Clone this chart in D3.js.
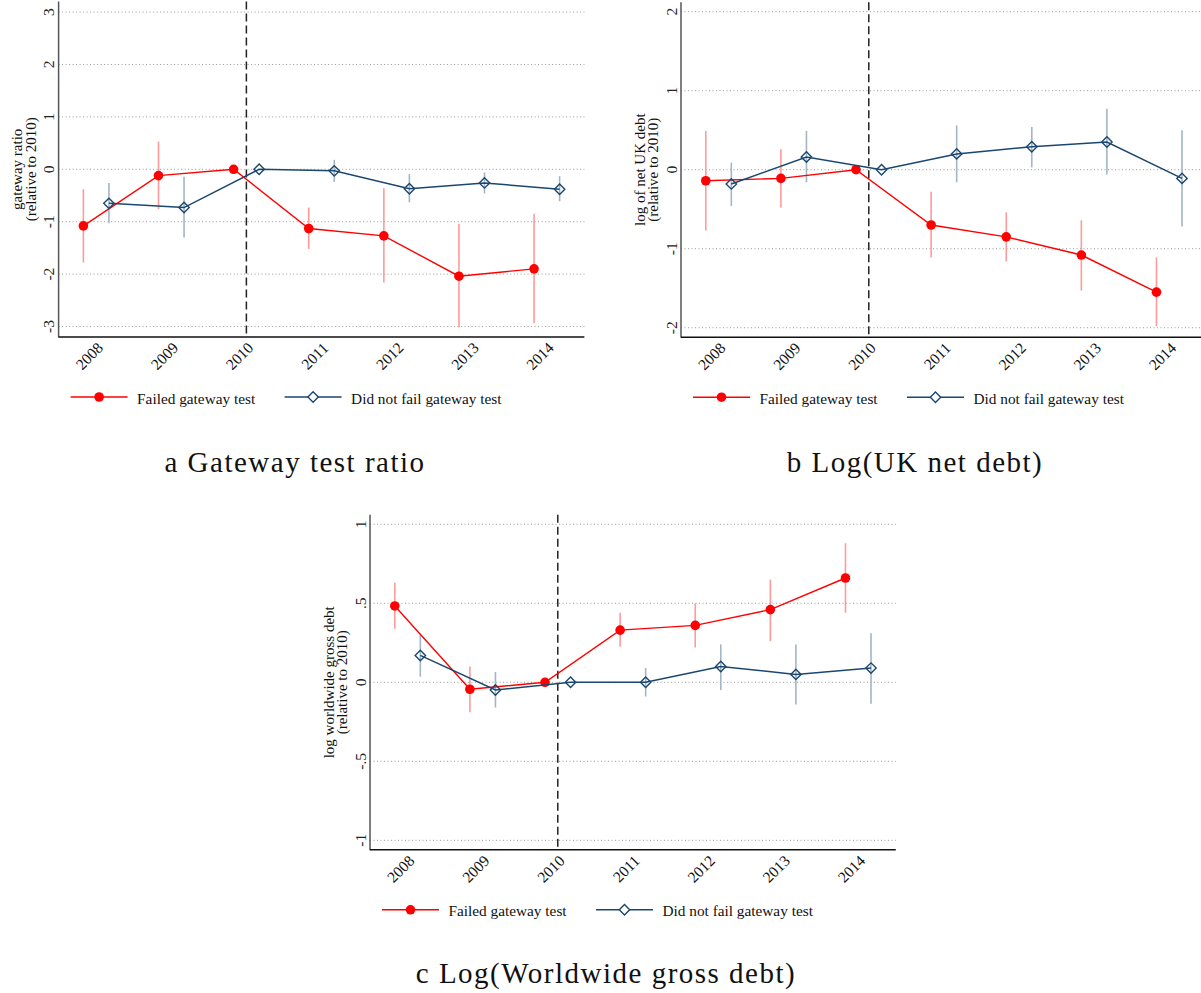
<!DOCTYPE html>
<html>
<head>
<meta charset="utf-8">
<script src="https://cdn.jsdelivr.net/npm/d3@7"></script>
<style>
  body { margin: 0; background: #fff; }
  svg { display: block; font-family: "Liberation Serif", "Times New Roman", serif; }
</style>
</head>
<body>
<svg id="chart" width="1201" height="993"></svg>
<script>
// years and estimates (null = reference year, no CI)
const years = [2008, 2009, 2010, 2011, 2012, 2013, 2014];

const gwFailed   = [-1.08, -0.12, 0, -1.13, -1.27, -2.04, -1.90];
const gwFailedLo = [-1.78, -0.76, null, -1.52, -2.16, -3.02, -2.94];
const gwFailedHi = [-0.38, 0.53, null, -0.73, -0.36, -1.04, -0.85];
const gwPassed   = [-0.65, -0.73, 0, -0.03, -0.37, -0.26, -0.38];
const gwPassedLo = [-1.03, -1.30, null, -0.24, -0.63, -0.46, -0.61];
const gwPassedHi = [-0.26, -0.14, null, 0.18, -0.09, -0.06, -0.13];

const ukFailed   = [-0.14, -0.11, 0, -0.70, -0.85, -1.08, -1.55];
const ukFailedLo = [-0.77, -0.48, null, -1.11, -1.16, -1.53, -1.98];
const ukFailedHi = [0.49, 0.26, null, -0.28, -0.54, -0.64, -1.11];
const ukPassed   = [-0.18, 0.16, 0, 0.20, 0.29, 0.35, -0.11];
const ukPassedLo = [-0.46, -0.16, null, -0.16, 0.03, -0.06, -0.72];
const ukPassedHi = [0.09, 0.49, null, 0.56, 0.54, 0.77, 0.50];

const wwFailed   = [0.483, -0.044, 0, 0.33, 0.36, 0.46, 0.66];
const wwFailedLo = [0.34, -0.19, null, 0.225, 0.22, 0.26, 0.44];
const wwFailedHi = [0.63, 0.10, null, 0.44, 0.50, 0.65, 0.88];
const wwPassed   = [0.17, -0.049, 0, 0, 0.10, 0.05, 0.09];
const wwPassedLo = [0.035, -0.16, null, -0.09, -0.05, -0.14, -0.135];
const wwPassedHi = [0.30, 0.065, null, 0.09, 0.24, 0.24, 0.31];

const gwTicks = [-3, -2, -1, 0, 1, 2, 3];
const ukTicks = [-2, -1, 0, 1, 2];
const wwTicks = [-1, -0.5, 0, 0.5, 1];

const seriesNames = ['Failed gateway test', 'Did not fail gateway test'];

const RED = '#ff0000';
const NAVY = '#1a476f';
const offset = 0.17; // horizontal shift of the two groups around each year

const svg = d3.select('#chart');

function fmtTick(v) {
  // Stata style: .5, -.5
  return String(v).replace(/^(-?)0\./, '$1.');
}

function drawPanel(p) {
  const x = d3.scaleLinear().domain([2007.5, 2014.5]).range([p.left, p.left + 525.8]);
  const y = d3.scaleLinear().domain(p.yDomain).range(p.yRange);
  const g = svg.append('g');
  const [x0, x1] = x.range();
  const yBottom = y.range()[0], yTop = y.range()[1];

  // gridlines
  g.selectAll('line.grid').data(p.ticks).join('line')
    .attr('x1', x0).attr('x2', x1)
    .attr('y1', d => y(d)).attr('y2', d => y(d))
    .attr('stroke', '#9a9a9a').attr('stroke-width', 1)
    .attr('stroke-dasharray', '1,2.5');

  // y tick labels (rotated)
  g.selectAll('text.yt').data(p.ticks).join('text')
    .attr('transform', d => `translate(${x0 - 10},${y(d)}) rotate(-90)`)
    .attr('text-anchor', 'middle')
    .attr('dominant-baseline', 'central')
    .attr('font-size', 15.5).attr('fill', '#222')
    .text(fmtTick);

  // y title
  const yMid = (yTop + yBottom) / 2;
  p.yTitle.forEach((t, i) => {
    g.append('text')
      .attr('transform', `translate(${x0 - 41.5 + i * 13.5},${yMid}) rotate(-90)`)
      .attr('text-anchor', 'middle')
      .attr('dominant-baseline', 'central')
      .attr('font-size', 15).attr('fill', '#111')
      .text(t);
  });

  // x tick labels
  g.selectAll('text.xt').data(years).join('text')
    .attr('transform', d => `translate(${x(d) + 4},${yBottom + 8}) rotate(-45)`)
    .attr('text-anchor', 'end')
    .attr('dominant-baseline', 'central')
    .attr('font-size', 15.5).attr('fill', '#111')
    .text(d => d);

  // series
  const series = [
    { est: p.failed, lo: p.failedLo, hi: p.failedHi, dx: -offset, color: RED, ci: '#ff9a9a', lw: 1.4 },
    { est: p.passed, lo: p.passedLo, hi: p.passedHi, dx: offset, color: NAVY, ci: '#a3b5c6', lw: 1.5 }
  ];

  series.forEach(s => {
    const pts = years.map((yr, i) => ({ x: yr + s.dx, v: s.est[i], lo: s.lo[i], hi: s.hi[i] }));
    g.selectAll(null).data(pts.filter(d => d.lo !== null)).join('line')
      .attr('x1', d => x(d.x)).attr('x2', d => x(d.x))
      .attr('y1', d => y(d.lo)).attr('y2', d => y(d.hi))
      .attr('stroke', s.ci).attr('stroke-width', 1.6);
  });

  // reference line at 2010
  g.append('line')
    .attr('x1', x(2010)).attr('x2', x(2010))
    .attr('y1', yTop).attr('y2', yBottom)
    .attr('stroke', '#222').attr('stroke-width', 1.5)
    .attr('stroke-dasharray', '8,4');

  series.forEach((s, k) => {
    const pts = years.map((yr, i) => ({ x: yr + s.dx, v: s.est[i] }));
    g.append('path')
      .datum(pts)
      .attr('d', d3.line().x(d => x(d.x)).y(d => y(d.v)))
      .attr('fill', 'none').attr('stroke', s.color).attr('stroke-width', s.lw);
    if (k === 0) {
      g.selectAll(null).data(pts).join('circle')
        .attr('cx', d => x(d.x)).attr('cy', d => y(d.v)).attr('r', 4.8)
        .attr('fill', s.color);
    } else {
      g.selectAll(null).data(pts).join('path')
        .attr('transform', d => `translate(${x(d.x)},${y(d.v)})`)
        .attr('d', 'M0,-5.2L5.2,0L0,5.2L-5.2,0Z')
        .attr('fill', 'none').attr('stroke', s.color).attr('stroke-width', 1.4);
    }
  });

  // axes lines
  g.append('line').attr('x1', x0).attr('x2', x0).attr('y1', yTop).attr('y2', yBottom + 0.5)
    .attr('stroke', '#555').attr('stroke-width', 1.5);
  g.append('line').attr('x1', x0).attr('x2', x1).attr('y1', yBottom).attr('y2', yBottom)
    .attr('stroke', '#111').attr('stroke-width', 1.5);

  // legend
  const ly = yBottom + 60;
  const leg = [
    { name: seriesNames[0], color: RED, start: 12, marker: 'circle' },
    { name: seriesNames[1], color: NAVY, start: 226, marker: 'diamond' }
  ];
  leg.forEach(l => {
    const a = x0 + l.start;
    g.append('line').attr('x1', a).attr('x2', a + 57).attr('y1', ly).attr('y2', ly)
      .attr('stroke', l.color).attr('stroke-width', 1.6);
    if (l.marker === 'circle') {
      g.append('circle').attr('cx', a + 28.5).attr('cy', ly).attr('r', 4.8).attr('fill', l.color);
    } else {
      g.append('path').attr('transform', `translate(${a + 28.5},${ly})`)
        .attr('d', 'M0,-5.2L5.2,0L0,5.2L-5.2,0Z')
        .attr('fill', '#fff').attr('stroke', l.color).attr('stroke-width', 1.4);
    }
    g.append('text').attr('x', a + 66.5).attr('y', ly + 1)
      .attr('dominant-baseline', 'central')
      .attr('font-size', 15.3).attr('fill', '#111')
      .text(l.name);
  });

  // caption
  svg.append('text')
    .attr('x', p.caption.x).attr('y', p.caption.y)
    .attr('text-anchor', 'middle')
    .attr('font-size', 29).attr('letter-spacing', 1.5).attr('fill', '#111')
    .text(p.caption.text);
}

drawPanel({
  left: 58.6, yDomain: [-3.2, 3.2], yRange: [337, 1.6], ticks: gwTicks,
  yTitle: ['gateway ratio', '(relative to 2010)'],
  failed: gwFailed, failedLo: gwFailedLo, failedHi: gwFailedHi,
  passed: gwPassed, passedLo: gwPassedLo, passedHi: gwPassedHi,
  caption: { text: 'a Gateway test ratio', x: 295, y: 472 }
});

drawPanel({
  left: 681, yDomain: [-2.12, 2.12], yRange: [337.2, 2.2], ticks: ukTicks,
  yTitle: ['log of net UK debt', '(relative to 2010)'],
  failed: ukFailed, failedLo: ukFailedLo, failedHi: ukFailedHi,
  passed: ukPassed, passedLo: ukPassedLo, passedHi: ukPassedHi,
  caption: { text: 'b Log(UK net debt)', x: 915, y: 472 }
});

drawPanel({
  left: 370, yDomain: [-1.06, 1.06], yRange: [849.8, 514.8], ticks: wwTicks,
  yTitle: ['log worldwide gross debt', '(relative to 2010)'],
  failed: wwFailed, failedLo: wwFailedLo, failedHi: wwFailedHi,
  passed: wwPassed, passedLo: wwPassedLo, passedHi: wwPassedHi,
  caption: { text: 'c Log(Worldwide gross debt)', x: 606, y: 983 }
});
</script>
</body>
</html>
